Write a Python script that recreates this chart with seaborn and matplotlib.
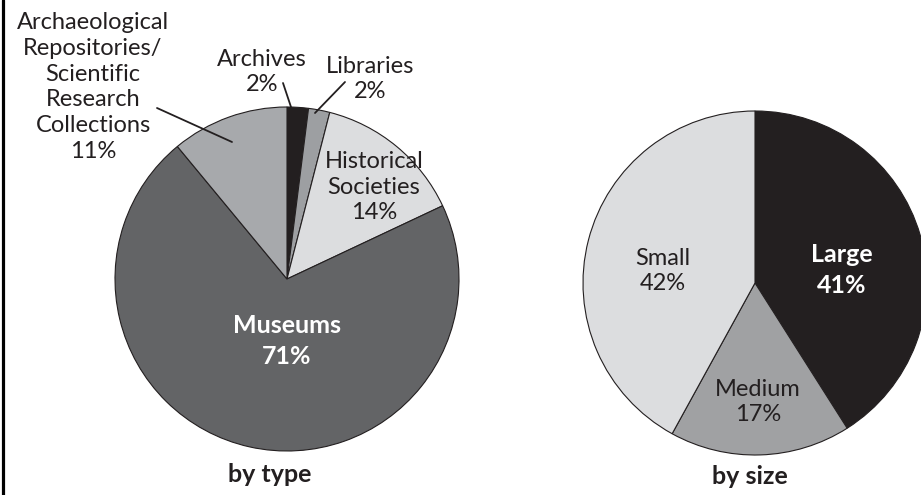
import matplotlib
matplotlib.use("Agg")
import matplotlib.pyplot as plt
import seaborn as sns

# data
type_labels = ["Archives", "Libraries", "Historical\nSocieties", "Museums",
               "Archaeological\nRepositories/\nScientific\nResearch\nCollections"]
type_pct = [2, 2, 14, 71, 11]
type_colors = ["#231f20", "#9d9fa2", "#dcdddf", "#636466", "#a7a9ac"]

size_labels = ["Large", "Medium", "Small"]
size_pct = [41, 17, 42]
size_colors = ["#231f20", "#a0a1a3", "#dcdddf"]

sns.set_theme(style="white")
plt.rcParams["font.family"] = ["Lato", "DejaVu Sans"]

W, H = 921, 495
fig = plt.figure(figsize=(W / 100, H / 100), dpi=100)
ax = fig.add_axes([0, 0, 1, 1])

edge = dict(edgecolor="#231f20", linewidth=0.8)
ax.pie(type_pct, colors=type_colors, startangle=90, counterclock=False,
       center=(287, H - 279), radius=172, wedgeprops=edge)
ax.pie(size_pct, colors=size_colors, startangle=90, counterclock=False,
       center=(755, H - 283), radius=172, wedgeprops=edge)

ax.set_xlim(0, W)
ax.set_ylim(0, H)
ax.set_aspect("equal")
ax.axis("off")

fs = 17
txt = dict(ha="center", va="center", fontsize=fs, color="#231f20", linespacing=1.28)
wtxt = dict(ha="center", va="center", fontsize=18, color="white",
            fontweight="bold", linespacing=1.45)

# by type labels
ax.text(93, H - 87, f"{type_labels[4]}\n{type_pct[4]}%", **txt)
ax.text(262, H - 72, f"{type_labels[0]}\n{type_pct[0]}%", **txt)
ax.text(370, H - 79, f"{type_labels[1]}\n{type_pct[1]}%", **txt)
ax.text(374, H - 187, f"{type_labels[2]}\n{type_pct[2]}%", **txt)
ax.text(287, H - 341, f"{type_labels[3]}\n{type_pct[3]}%", **wtxt)

# leader lines
ax.plot([157, 232], [H - 108, H - 142], color="#231f20", lw=1.3)
ax.plot([283, 291], [H - 83, H - 107], color="#231f20", lw=1.3)
ax.plot([345, 315], [H - 82, H - 113], color="#231f20", lw=1.3)

# by size labels
ax.text(842, H - 270, f"{size_labels[0]}\n{size_pct[0]}%", **wtxt)
ax.text(758, H - 402, f"{size_labels[1]}\n{size_pct[1]}%", **txt)
ax.text(663, H - 271, f"{size_labels[2]}\n{size_pct[2]}%", **txt)

ax.text(270, H - 474, "by type", ha="center", va="center", fontsize=18,
        fontweight="bold", color="#231f20")
ax.text(750, H - 477, "by size", ha="center", va="center", fontsize=18,
        fontweight="bold", color="#231f20")

# left frame line
ax.axvline(2.5, color="black", lw=2.3)

fig.savefig("out.png", dpi=100)
